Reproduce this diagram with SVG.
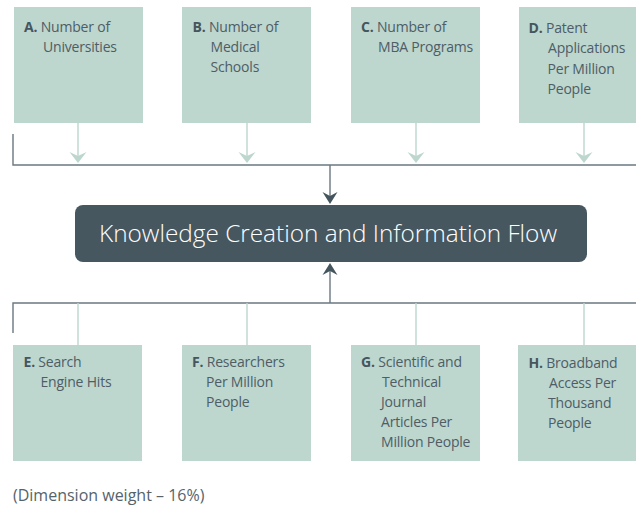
<svg xmlns="http://www.w3.org/2000/svg" width="636" height="511" viewBox="0 0 636 511">
<style>
.box{fill:#bdd6ce}
.t{font-family:"Open Sans","Liberation Sans",sans-serif;font-size:14px;letter-spacing:-0.2px;fill:#4e5d66}
.t tspan.b{font-weight:bold;fill:#45555e}
.dk{stroke:#6b7881;stroke-width:1.4;fill:none}
.gl{stroke:#bdd6ce;stroke-width:1.4;fill:none}
.gh{fill:#bdd6ce}
.dh{fill:#45555e}
.main{fill:#465760}
.mt{font-family:"Open Sans","Liberation Sans",sans-serif;font-size:24px;font-weight:300;fill:#ffffff}
.ft{font-family:"Open Sans","Liberation Sans",sans-serif;font-size:16px;fill:#55636b}
</style>
<rect width="636" height="511" fill="#ffffff"/>
<g id="connectors">
  <path class="dk" d="M13,134 V165 H636"/>
  <path class="gl" d="M78,123 V158 M247,123 V158 M416,123 V158 M584,123 V158"/>
  <path class="gh" d="M78,163 L69.5,152 L78,156 L86.5,152 Z"/>
  <path class="gh" d="M247,163 L238.5,152 L247,156 L255.5,152 Z"/>
  <path class="gh" d="M416,163 L407.5,152 L416,156 L424.5,152 Z"/>
  <path class="gh" d="M584,163 L575.5,152 L584,156 L592.5,152 Z"/>
  <path class="dk" d="M330,165 V198"/>
  <path class="dh" d="M330,204 L322.5,192 L330,196 L337.5,192 Z"/>
  <path class="dk" d="M13,333 V303 H636"/>
  <path class="dk" d="M330,303 V270"/>
  <path class="dh" d="M330,263 L322.5,275 L330,271 L337.5,275 Z"/>
  <path class="gl" d="M78,303 V345 M247,303 V345 M416,303 V345 M584,303 V345"/>
</g>
<g id="nodeA">
  <rect class="box" x="14" y="7" width="129" height="116"/>
  <text class="t" x="24" y="32"><tspan class="b">A.</tspan> Number of</text>
  <text class="t" x="43" y="52">Universities</text>
</g>
<g id="nodeB">
  <rect class="box" x="182" y="7" width="129" height="116"/>
  <text class="t" x="192.5" y="32"><tspan class="b">B.</tspan> Number of</text>
  <text class="t" x="210.5" y="52">Medical</text>
  <text class="t" x="210.5" y="72">Schools</text>
</g>
<g id="nodeC">
  <rect class="box" x="351" y="7" width="129" height="116"/>
  <text class="t" x="361" y="32"><tspan class="b">C.</tspan> Number of</text>
  <text class="t" x="378" y="52">MBA Programs</text>
</g>
<g id="nodeD">
  <rect class="box" x="519" y="7" width="129" height="116"/>
  <text class="t" x="528.5" y="33"><tspan class="b">D.</tspan> Patent</text>
  <text class="t" x="548" y="53">Applications</text>
  <text class="t" x="547.5" y="74">Per Million</text>
  <text class="t" x="547.5" y="94">People</text>
</g>
<g id="main">
  <rect class="main" x="75" y="205" width="512" height="57" rx="8"/>
  <text class="mt" x="328" y="242" text-anchor="middle" textLength="458" lengthAdjust="spacingAndGlyphs">Knowledge Creation and Information Flow</text>
</g>
<g id="nodeE">
  <rect class="box" x="13" y="345" width="129" height="116"/>
  <text class="t" x="23.5" y="367"><tspan class="b">E.</tspan> Search</text>
  <text class="t" x="40.5" y="387">Engine Hits</text>
</g>
<g id="nodeF">
  <rect class="box" x="182" y="345" width="129" height="116"/>
  <text class="t" x="192" y="367"><tspan class="b">F.</tspan> Researchers</text>
  <text class="t" x="206" y="387">Per Million</text>
  <text class="t" x="206" y="407">People</text>
</g>
<g id="nodeG">
  <rect class="box" x="351" y="345" width="129" height="116"/>
  <text class="t" x="361" y="367"><tspan class="b">G.</tspan> Scientific and</text>
  <text class="t" x="382" y="387">Technical</text>
  <text class="t" x="381" y="407">Journal</text>
  <text class="t" x="381" y="427">Articles Per</text>
  <text class="t" x="381" y="447">Million People</text>
</g>
<g id="nodeH">
  <rect class="box" x="518" y="345" width="129" height="116"/>
  <text class="t" x="528.5" y="368"><tspan class="b">H.</tspan> Broadband</text>
  <text class="t" x="549" y="388">Access Per</text>
  <text class="t" x="548" y="408">Thousand</text>
  <text class="t" x="548" y="428">People</text>
</g>
<text class="ft" x="13" y="501">(Dimension weight – 16%)</text>
</svg>
